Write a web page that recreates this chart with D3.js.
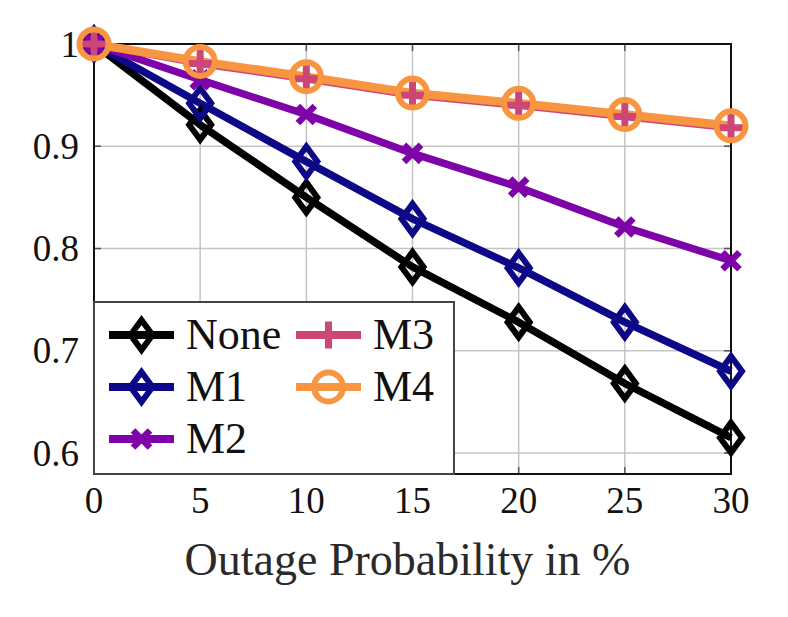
<!DOCTYPE html>
<html>
<head>
<meta charset="utf-8">
<script src="https://cdn.jsdelivr.net/npm/d3@7"></script>
<style>
  body { margin: 0; background: #fff; }
  svg { font-family: "Liberation Serif", "Times New Roman", serif; }
  .grid line { stroke: #c4c4c4; stroke-width: 1.5; }
  .tick-label { font-size: 37px; fill: #111; }
  .axis-label { font-size: 46px; fill: #2a2a2a; }
  .legend-text { font-size: 44px; fill: #111; }
</style>
</head>
<body>
<svg width="788" height="617"></svg>
<script>
const svg = d3.select("svg");

const width = 788;
const height = 617;

const margin = {
    top: 44,
    right: 57,
    bottom: 143,
    left: 94
};

// data
const xValues = [0, 5, 10, 15, 20, 25, 30];
const xTicks = [0, 5, 10, 15, 20, 25, 30];
const yTicks = [0.6, 0.7, 0.8, 0.9, 1.0];
const yTickLabels = ["0.6", "0.7", "0.8", "0.9", "1"];

const noneValues = [1.0, 0.921, 0.850, 0.782, 0.728, 0.668, 0.615];
const m1Values = [1.0, 0.942, 0.885, 0.829, 0.781, 0.728, 0.680];
const m2Values = [1.0, 0.965, 0.931, 0.893, 0.860, 0.821, 0.788];
const m3Values = [1.0, 0.981, 0.966, 0.950, 0.940, 0.929, 0.918];
const m4Values = [1.0, 0.983, 0.968, 0.952, 0.942, 0.931, 0.920];

const series = [
    { name: "None", values: noneValues, color: "#000000", mark: "diamond" },
    { name: "M1", values: m1Values, color: "#0d0887", mark: "diamond" },
    { name: "M2", values: m2Values, color: "#7e03a8", mark: "cross" },
    { name: "M3", values: m3Values, color: "#cc4778", mark: "plus" },
    { name: "M4", values: m4Values, color: "#f89540", mark: "circle" }
];

const xScale = d3.scaleLinear()
    .domain([0, 30])
    .range([margin.left, width - margin.right]);

const yScale = d3.scaleLinear()
    .domain([0.5795, 1.0])
    .range([height - margin.bottom, margin.top]);

const x0 = margin.left, x1 = width - margin.right;
const y0 = height - margin.bottom, y1 = margin.top;

// grid
const grid = svg.append("g").attr("class", "grid");
grid.selectAll(".gx")
    .data(xTicks.slice(1, -1))
    .enter().append("line")
    .attr("x1", d => xScale(d)).attr("x2", d => xScale(d))
    .attr("y1", y0).attr("y2", y1);
grid.selectAll(".gy")
    .data(yTicks.slice(0, -1))
    .enter().append("line")
    .attr("x1", x0).attr("x2", x1)
    .attr("y1", d => yScale(d)).attr("y2", d => yScale(d));

// small inner ticks
const ticks = svg.append("g").attr("stroke", "#555").attr("stroke-width", 1.5);
xTicks.slice(1, -1).forEach(function(t) {
    ticks.append("line").attr("x1", xScale(t)).attr("x2", xScale(t)).attr("y1", y0).attr("y2", y0 - 7);
    ticks.append("line").attr("x1", xScale(t)).attr("x2", xScale(t)).attr("y1", y1).attr("y2", y1 + 7);
});
yTicks.slice(0, -1).forEach(function(t) {
    ticks.append("line").attr("x1", x0).attr("x2", x0 + 7).attr("y1", yScale(t)).attr("y2", yScale(t));
    ticks.append("line").attr("x1", x1).attr("x2", x1 - 7).attr("y1", yScale(t)).attr("y2", yScale(t));
});

// axis box
svg.append("rect")
    .attr("x", x0).attr("y", y1)
    .attr("width", x1 - x0).attr("height", y0 - y1)
    .attr("fill", "none")
    .attr("stroke", "#111")
    .attr("stroke-width", 2);

// tick labels
svg.selectAll(".xlab")
    .data(xTicks)
    .enter().append("text")
    .attr("class", "tick-label")
    .attr("x", d => xScale(d))
    .attr("y", y0 + 39)
    .attr("text-anchor", "middle")
    .text(d => d);

svg.selectAll(".ylab")
    .data(yTicks)
    .enter().append("text")
    .attr("class", "tick-label")
    .attr("x", x0 - 15)
    .attr("y", d => yScale(d) + 12.5)
    .attr("text-anchor", "end")
    .text((d, i) => yTickLabels[i]);

// markers
function drawMark(g, type, color, cx, cy) {
    if (type === "diamond") {
        g.append("path")
            .attr("d", `M${cx},${cy - 15} L${cx + 11},${cy} L${cx},${cy + 15} L${cx - 11},${cy} Z`)
            .attr("fill", "none").attr("stroke", color).attr("stroke-width", 6);
    } else if (type === "cross") {
        const s = 8.5;
        g.append("path")
            .attr("d", `M${cx - s},${cy - s} L${cx + s},${cy + s} M${cx - s},${cy + s} L${cx + s},${cy - s}`)
            .attr("fill", "none").attr("stroke", color).attr("stroke-width", 6.5);
    } else if (type === "plus") {
        const s = 13.5;
        g.append("path")
            .attr("d", `M${cx - s},${cy} L${cx + s},${cy} M${cx},${cy - s} L${cx},${cy + s}`)
            .attr("fill", "none").attr("stroke", color).attr("stroke-width", 7);
    } else if (type === "circle") {
        g.append("circle")
            .attr("cx", cx).attr("cy", cy).attr("r", 14.5)
            .attr("fill", "none").attr("stroke", color).attr("stroke-width", 6);
    }
}

const line = d3.line()
    .x((d, i) => xScale(xValues[i]))
    .y(d => yScale(d));

// lines first, then marks on top
series.forEach(function(s) {
    svg.append("path")
        .datum(s.values)
        .attr("fill", "none")
        .attr("stroke", s.color)
        .attr("stroke-width", s.name === "M4" ? 8.5 : 7.5)
        .attr("stroke-linejoin", "round")
        .attr("d", line);
});

const marks = svg.append("g");
series.forEach(function(s) {
    s.values.forEach(function(v, i) {
        drawMark(marks, s.mark, s.color, xScale(xValues[i]), yScale(v));
    });
});

// legend
const legend = svg.append("g");
legend.append("rect")
    .attr("x", x0).attr("y", 302)
    .attr("width", 454 - x0).attr("height", y0 - 302)
    .attr("fill", "#fff")
    .attr("stroke", "#444")
    .attr("stroke-width", 2);

const legendPos = [
    { x: 109, y: 335 },
    { x: 109, y: 387 },
    { x: 109, y: 439 },
    { x: 296, y: 335 },
    { x: 296, y: 387 }
];

series.forEach(function(s, i) {
    const p = legendPos[i];
    legend.append("line")
        .attr("x1", p.x).attr("x2", p.x + 65)
        .attr("y1", p.y).attr("y2", p.y)
        .attr("stroke", s.color)
        .attr("stroke-width", 8);
    drawMark(legend, s.mark, s.color, p.x + 32.5, p.y);
    legend.append("text")
        .attr("class", "legend-text")
        .attr("x", p.x + 77)
        .attr("y", p.y + 14)
        .text(s.name);
});

svg.append("text")
    .attr("class", "axis-label")
    .attr("x", (x0 + x1) / 2 - 5)
    .attr("y", 575)
    .attr("text-anchor", "middle")
    .text("Outage Probability in %");
</script>
</body>
</html>
